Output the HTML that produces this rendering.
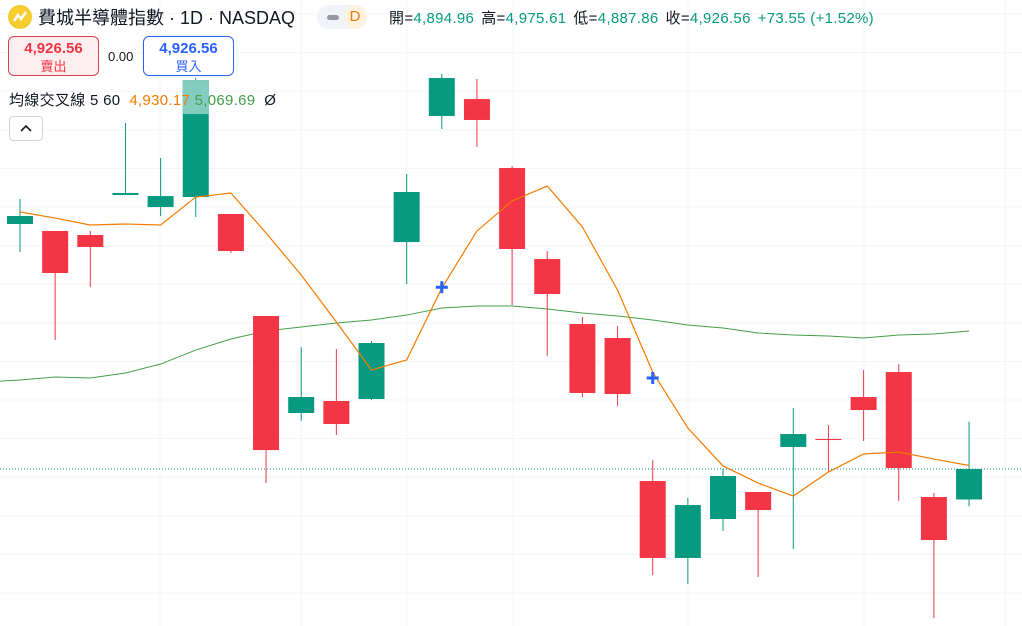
<!DOCTYPE html>
<html><head><meta charset="utf-8">
<style>
body{margin:0;width:1022px;height:626px;overflow:hidden;background:#fff;font-family:"Liberation Sans","Noto Sans CJK TC",sans-serif;position:relative}
svg{position:absolute;left:0;top:0}
.hdr{position:absolute;left:8px;top:4px;height:26px;display:flex;align-items:center;white-space:nowrap}
.logo{width:24px;height:24px;border-radius:50%;background:#f5cd2f;display:inline-block;position:relative;margin-right:6px}
.title{font-size:18px;color:#131722}
.pill{margin-left:22px;width:50px;height:24px;border-radius:12px;background:#f0f3fa;display:flex;align-items:center;position:relative}
.pill .dash{width:12px;height:5px;border-radius:3px;background:#9598a1;margin-left:10px}
.pill .d{position:absolute;right:0;top:0;width:24px;height:24px;border-radius:12px;background:#fff3e0;color:#f57c00;font-size:15px;text-align:center;line-height:24px}
.ohlc{margin-left:22px;font-size:15px;color:#131722;letter-spacing:0.3px}
.ohlc b{font-weight:normal;color:#089981;margin-right:7px}
.box{position:absolute;top:36px;height:40px;border-radius:6px;text-align:center;font-size:15px;font-weight:bold;line-height:18px;padding-top:3px;box-sizing:border-box}
.box span{display:block;font-size:13px;font-weight:normal}
.ind{position:absolute;left:9px;top:89px;font-size:15px;color:#131722;white-space:nowrap;letter-spacing:0.3px}
.coll{position:absolute;left:9px;top:116px;width:34px;height:25px;border:1px solid #d1d4dc;border-radius:4px;box-sizing:border-box;background:#fff}
</style></head><body>
<svg id="chart" width="1022" height="626"></svg>
<div class="hdr">
  <span class="logo"><svg width="24" height="24" style="position:static"><path d="M6 16 L10 10 L13 14 L18 7" stroke="#fff" stroke-width="2.5" fill="none"/></svg></span>
  <span class="title">費城半導體指數 · 1D · NASDAQ</span>
  <span class="pill"><span class="dash"></span><span class="d">D</span></span>
  <span class="ohlc">開=<b>4,894.96</b>高=<b>4,975.61</b>低=<b>4,887.86</b>收=<b>4,926.56</b><b>+73.55 (+1.52%)</b></span>
</div>
<div class="box" style="left:8px;width:91px;background:#fdeef0;border:1px solid #d9414f;color:#f23645">4,926.56<span>賣出</span></div>
<div style="position:absolute;left:108px;top:49px;font-size:13px;color:#131722">0.00</div>
<div class="box" style="left:143px;width:91px;background:#fff;border:1px solid #2962ff;color:#2962ff">4,926.56<span>買入</span></div>
<div class="ind">均線交叉線 5 60&nbsp;&nbsp;<span style="color:#f57c00">4,930.17</span> <span style="color:#43a047">5,069.69</span>&nbsp; Ø</div>
<div class="coll"><svg width="32" height="23" style="position:static"><path d="M11 14 L16 9 L21 14" stroke="#131722" stroke-width="1.6" fill="none"/></svg></div>
<script>
const opens=[5180.6,5173.4,5169.2,5210.7,5198.2,5208.6,5191.0,5085.2,4984.6,4997.1,4999.1,5161.9,5292.6,5310.2,5238.7,5144.3,5076.9,5062.4,4914.1,4834.3,4874.7,4902.7,4949.4,4957.7,5001.2,5027.1,4897.5,4894.96];
const highs=[5206.5,5173.4,5173.4,5285.3,5249.1,5332.0,5191.0,5085.2,5053.1,5051.0,5059.3,5232.5,5336.2,5331.0,5240.8,5152.6,5084.2,5074.8,4935.9,4896.5,4926.5,4902.7,4989.8,4972.2,5029.2,5035.4,4901.7,4975.61];
const lows=[5151.6,5060.3,5115.3,5210.7,5188.9,5187.9,5150.5,4912.0,4976.3,4961.8,4998.1,5118.4,5279.1,5260.5,5096.6,5043.7,5001.2,4991.9,4816.6,4807.3,4862.3,4814.6,4843.6,4923.4,4955.6,4893.4,4772.0,4887.86];
const closes=[5188.9,5129.8,5156.8,5212.8,5209.6,5329.9,5152.6,4946.2,5001.2,4973.2,5057.2,5213.8,5332.0,5288.5,5154.7,5108.0,5005.4,5004.3,4834.3,4889.2,4919.3,4884.0,4962.8,4956.6,4987.7,4927.6,4852.9,4926.56];
const ma5=[5193.1,5186.8,5179.6,5180.6,5179.6,5208.6,5212.8,5171.3,5127.7,5079.0,5029.2,5039.6,5114.2,5173.4,5204.5,5220.0,5177.5,5112.2,5027.1,4969.1,4929.7,4912.0,4898.5,4923.4,4942.1,4944.2,4936.9,4930.17];
const ma60=[5018.8,5021.9,5020.9,5026.1,5035.4,5049.9,5061.4,5069.7,5073.8,5078.0,5081.1,5086.2,5093.5,5095.6,5095.6,5092.5,5088.3,5085.2,5081.1,5075.9,5072.8,5067.6,5065.5,5064.5,5062.4,5065.5,5066.5,5069.69];
const ma60Prev=5017.7;
const crossIdx=[12,18];
const crossVals=[5115.0,5020.9];
const lastPrice=4926.56;

const NS='http://www.w3.org/2000/svg';
const svg=document.getElementById('chart');
const x=i=>20+i*35.15;
const y=p=>(5412.91-p)/1.037;
function mk(t,a){const e=document.createElementNS(NS,t);for(const k in a)e.setAttribute(k,a[k]);svg.appendChild(e);return e;}
[160,301,407,513,688,864,1005].forEach(gx=>{const g=mk('line',{x1:gx,x2:gx,y1:0,y2:626,stroke:'#f3f5fa'});

});
for(let gy=14;gy<626;gy+=38.6){const g=mk('line',{x1:0,x2:1022,y1:gy,y2:gy,stroke:'#f3f5fa'});

}
let pts=['0,'+y(ma60Prev)].concat(ma60.map((v,i)=>x(i)+','+y(v)));
const l60=mk('polyline',{points:pts.join(' '),fill:'none',stroke:'#43a047','stroke-width':1});


closes.forEach((c,i)=>{
  const o=opens[i],up=c>=o,col=up?'#089981':'#f23645';
  const w=mk('line',{x1:x(i),x2:x(i),y1:y(highs[i]),y2:y(lows[i]),stroke:col,'stroke-width':1});
  
  
  const top=Math.min(y(o),y(c)),h=Math.max(1,Math.abs(y(o)-y(c)));
  const b=mk('rect',{x:x(i)-13,y:top,width:26,height:h,fill:col});
  
  
  if(i===5){const hl=mk('rect',{x:x(i)-13,y:top,width:26,height:34,fill:'#86cbbf'});
  
  }
});
const l5=mk('polyline',{points:ma5.map((v,i)=>x(i)+','+y(v)).join(' '),fill:'none',stroke:'#f57c00','stroke-width':1.2});


crossIdx.forEach((ci,k)=>{
  const cx=x(ci),cy=y(crossVals[k]);
  const p=mk('path',{d:`M${cx-6} ${cy}H${cx+6}M${cx} ${cy-6}V${cy+6}`,stroke:'#2962ff','stroke-width':3});
  
  
});
const lp=mk('line',{x1:0,x2:1022,y1:y(lastPrice),y2:y(lastPrice),stroke:'#089981','stroke-width':1,'stroke-dasharray':'1 2'});


</script>
</body></html>
